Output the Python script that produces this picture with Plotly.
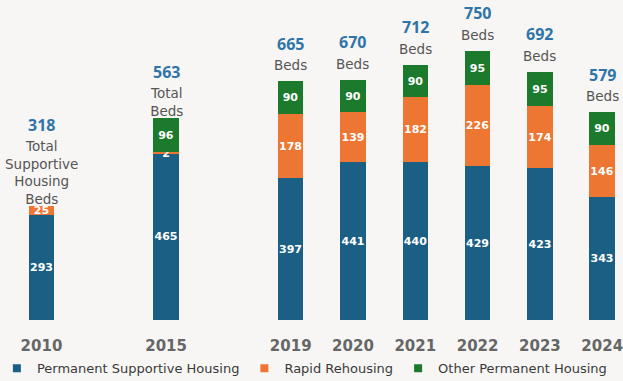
import plotly.graph_objects as go

# Supportive housing bed inventory by year
years = ["2010", "2015", "2019", "2020", "2021", "2022", "2023", "2024"]
permanent_supportive = [293, 465, 397, 441, 440, 429, 423, 343]
rapid_rehousing = [25, 2, 178, 139, 182, 226, 174, 146]
other_permanent = [0, 96, 90, 90, 90, 95, 95, 90]
totals = [318, 563, 665, 670, 712, 750, 692, 579]
descriptors = ["Total<br>Supportive<br>Housing<br>Beds", "Total<br>Beds",
               "Beds", "Beds", "Beds", "Beds", "Beds", "Beds"]

# horizontal slots: wider gaps before 2015 and 2019
slots = [0, 2, 4, 5, 6, 7, 8, 9]

BLUE = "#1c5f84"
ORANGE = "#ee7633"
GREEN = "#1b7a2b"
BG = "#f7f6f4"
FONT = "DejaVu Sans"
NUM_FONT = "Noto Sans"

fig = go.Figure()

series = [
    ("Permanent Supportive Housing", permanent_supportive, BLUE),
    ("Rapid Rehousing", rapid_rehousing, ORANGE),
    ("Other Permanent Housing", other_permanent, GREEN),
]

for name, vals, color in series:
    labels = [str(v) if v > 0 else "" for v in vals]
    fig.add_trace(go.Bar(
        x=slots, y=vals, name=name, marker=dict(color=color, line=dict(width=0)),
        width=0.41, text=labels, textposition="inside", insidetextanchor="middle",
        textangle=0, constraintext="none", cliponaxis=False,
        textfont=dict(family=FONT, size=11, color="white", weight="bold"),
        showlegend=False, hoverinfo="skip",
    ))
    # legend entry with a small square swatch
    fig.add_trace(go.Scatter(
        x=[None], y=[None], mode="markers", name=name,
        marker=dict(symbol="square", size=8, color=color),
    ))

line_h = 17.6
for s, tot, desc in zip(slots, totals, descriptors):
    n_lines = desc.count("<br>") + 1
    shift = 6 if n_lines == 1 else -3
    fig.add_annotation(
        x=s, y=tot, text=desc, showarrow=False, xanchor="center", yanchor="bottom",
        yshift=shift, align="center",
        font=dict(family=FONT, size=13.5, color="#555555"),
    )
    fig.add_annotation(
        x=s, y=tot, text=str(tot), showarrow=False, xanchor="center", yanchor="bottom",
        yshift=shift + n_lines * line_h + 1,
        font=dict(family=NUM_FONT, size=16, color="#2f74a8", weight="bold"),
    )

fig.update_layout(
    width=623, height=381,
    margin=dict(l=0, r=0, t=0, b=61, autoexpand=False),
    paper_bgcolor=BG, plot_bgcolor=BG,
    barmode="stack", bargap=0,
    font=dict(family=FONT),
    showlegend=True,
    legend=dict(
        orientation="h", x=-0.005, xanchor="left", y=-0.104, yanchor="top",
        traceorder="normal",
        font=dict(family=FONT, size=13, color="#3a3a3a"),
        bgcolor="rgba(0,0,0,0)", itemwidth=30, tracegroupgap=0,
    ),
    xaxis=dict(
        range=[-0.666, 9.334], tickmode="array", tickvals=slots, ticktext=years,
        showgrid=False, zeroline=False, showline=False, ticks="",
        tickfont=dict(family=FONT, size=15, color="#666666", weight="bold"),
        ticklabelstandoff=15, ticklabeloverflow="allow",
    ),
    yaxis=dict(range=[0, 892], visible=False, showgrid=False, zeroline=False),
)

fig.write_html("out.html")
